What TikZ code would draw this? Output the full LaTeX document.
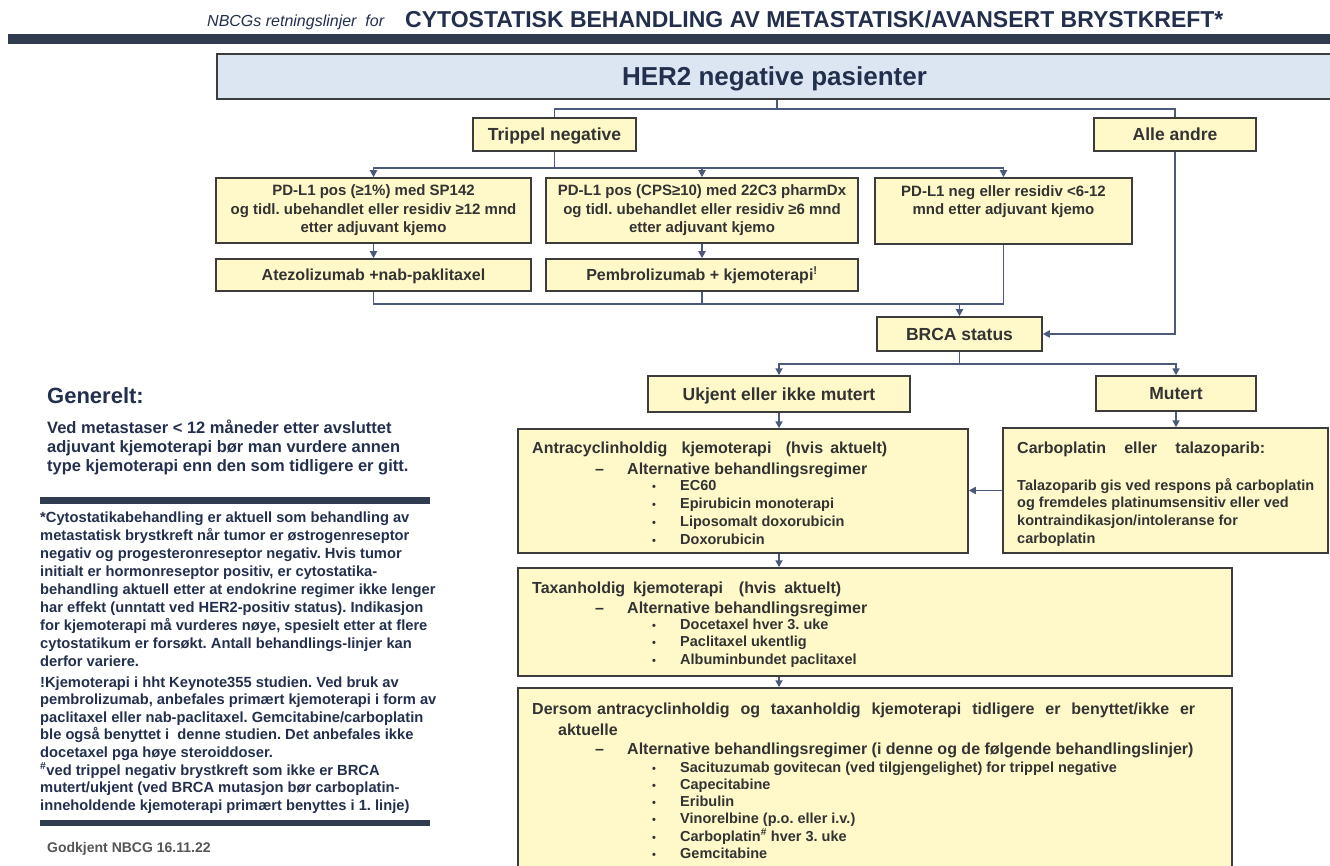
\documentclass[tikz,border=0pt]{standalone}
\usepackage{fontspec}
\setmainfont{Liberation Sans}
\usetikzlibrary{arrows.meta}
\definecolor{navy}{HTML}{23304D}
\definecolor{boxtext}{HTML}{333333}
\definecolor{boxline}{HTML}{3C3C3C}
\definecolor{boxfill}{HTML}{FFF9C9}
\definecolor{herfill}{HTML}{DCE6F2}
\definecolor{connc}{HTML}{4B5A7A}
\definecolor{barc}{HTML}{2F3B4F}
\definecolor{grayt}{HTML}{555555}
\newcommand\fs[2]{\fontsize{#1}{#2}\selectfont}
\begin{document}
\frenchspacing
\begin{tikzpicture}[x=1pt,y=-1pt,
  ybox/.style={draw=boxline, fill=boxfill, line width=1.5pt, inner sep=0pt, align=center, text=boxtext, font=\bfseries},
  conn/.style={draw=connc, line width=1.8pt},
  arr/.style={conn, -{Triangle[length=7pt,width=7pt]}},
  bt/.style={anchor=base west, inner sep=0pt, text=boxtext, font=\bfseries\fs{14.5}{17}},
  bth/.style={anchor=base west, inner sep=0pt, text=boxtext, font=\bfseries\fs{16}{19}},
  lt/.style={anchor=base west, inner sep=0pt, text=navy, font=\bfseries\fs{14.7}{17}},
  ttl/.style={font=\bfseries\fs{17.5}{20}, text height=12.5pt, text depth=0pt},
  onel/.style={font=\bfseries\fs{16}{19}, text height=11.5pt, text depth=0pt},
]
\useasboundingbox (0,0) rectangle (1330,866);
\fill[white] (0,0) rectangle (1330,866);

% header
\node[anchor=base west, inner sep=0pt, text=navy, font=\itshape\fs{16}{18}] (sub) at (207,27) {NBCGs retningslinjer\ \ for};
\node[anchor=base west, inner sep=0pt, text=navy, font=\bfseries\fs{23}{26}] (title) at (405,28) {CYTOSTATISK BEHANDLING AV METASTATISK/AVANSERT BRYSTKREFT*};
\fill[barc] (8,34) rectangle (1330,44);

% boxes
\node[ybox, fill=herfill, minimum width=1115pt, minimum height=45pt, text=navy, font=\bfseries\fs{26}{30}, text height=18.6pt, text depth=0pt] (her2) at (774.5,76.5) {HER2 negative pasienter};
\node[ybox, ttl, minimum width=163pt, minimum height=33pt] (trip) at (554.5,134.5) {Trippel negative};
\node[ybox, ttl, minimum width=162pt, minimum height=33pt] (alle) at (1175,134.5) {Alle andre};
\node[ybox, minimum width=315pt, minimum height=65pt, font=\bfseries\fs{15}{18.5}] (pd1) at (373.5,210.5) {PD-L1 pos (≥1\%) med SP142\\og tidl. ubehandlet eller residiv ≥12 mnd\\etter adjuvant kjemo};
\node[ybox, minimum width=312pt, minimum height=65pt, font=\bfseries\fs{15}{18.5}] (pd2) at (702,210.5) {PD-L1 pos (CPS≥10) med 22C3 pharmDx\\og tidl. ubehandlet eller residiv ≥6 mnd\\etter adjuvant kjemo};
\node[ybox, minimum width=257pt, minimum height=66pt] (pd3) at (1003.5,211) {};
\node[inner sep=0pt, align=center, text=boxtext, font=\bfseries\fs{15}{18.5}] (pd3t) at (1003.5,201.5) {PD-L1 neg eller residiv <6-12\\mnd etter adjuvant kjemo};
\node[ybox, onel, minimum width=315pt, minimum height=32pt] (atezo) at (373.5,275) {Atezolizumab +nab-paklitaxel};
\node[ybox, onel, minimum width=312pt, minimum height=32pt] (pembro) at (702,275) {Pembrolizumab + kjemoterapi\textsuperscript{!}};
\node[ybox, ttl, minimum width=165pt, minimum height=34pt] (brca) at (959.5,334) {BRCA status};
\node[ybox, ttl, minimum width=262pt, minimum height=36pt] (ukjent) at (779,394) {Ukjent eller ikke mutert};
\node[ybox, ttl, minimum width=160pt, minimum height=35pt] (mutert) at (1176,393.5) {Mutert};
\node[ybox, minimum width=450pt, minimum height=124pt] (antra) at (743,491) {};
\node[ybox, minimum width=325pt, minimum height=125pt] (carbo) at (1165.5,490.5) {};
\node[ybox, minimum width=714pt, minimum height=108pt] (taxan) at (875,622) {};
\node[ybox, minimum width=714pt, minimum height=182pt] (dersom) at (875,779) {};

% connectors
\coordinate (j1) at (777,109);
\draw[conn] (her2.south -| j1) -- (j1);
\draw[conn] (trip.north) |- (j1) -| (alle.north);
\coordinate (j2) at (554.5,168);
\draw[conn] (trip.south) -- (j2);
\draw[arr] (j2) -| (pd1.north);
\draw[arr] (j2) -| (pd2.north);
\draw[arr] (j2) -| (pd3.north);
\draw[arr] (pd1.south) -- (atezo.north);
\draw[arr] (pd2.south) -- (pembro.north);
\coordinate (j3) at (959.5,304);
\draw[conn] (atezo.south) |- (j3);
\draw[conn] (pembro.south) |- (j3);
\draw[conn] (pd3.south) |- (j3);
\draw[arr] (j3) -- (brca.north);
\draw[arr] (alle.south) |- (brca.east);
\coordinate (j4) at (959.5,364);
\draw[conn] (brca.south) -- (j4);
\draw[arr] (j4) -| (ukjent.north);
\draw[arr] (j4) -| (mutert.north);
\draw[arr] (ukjent.south) -- (ukjent.south |- antra.north);
\draw[arr] (mutert.south) -- (mutert.south |- carbo.north);
\draw[arr] (carbo.west) -- (carbo.west -| antra.east);
\draw[arr] (antra.south -| ukjent.south) -- (taxan.north -| ukjent.south);
\draw[arr] (taxan.south -| ukjent.south) -- (dersom.north -| ukjent.south);

% antra content
\node[bth] (at1) at (532,453) {\makebox[355pt][s]{Antracyclinholdig\ \ kjemoterapi\ \ (hvis aktuelt)}};
\node[bth] (at2d) at (595,474) {–};
\node[bth] (at2) at (627,474) {Alternative behandlingsregimer};
\foreach \t [count=\i] in {{EC60},{Epirubicin monoterapi},{Liposomalt doxorubicin},{Doxorubicin}} {
  \node[bt] (ab\i) at (680,{490+18*(\i-1)}) {\t};
  \node[bt, font=\bfseries\fs{11}{13}] (abd\i) at (652,{490+18*(\i-1)}) {•};
}

% carbo content
\node[bth] (cb1) at (1017,453) {\makebox[248pt][s]{Carboplatin\ \ eller\ \ talazoparib:}};
\foreach \t [count=\i] in {{Talazoparib gis ved respons på carboplatin},{og fremdeles platinumsensitiv eller ved},{kontraindikasjon/intoleranse for},{carboplatin}} {
  \node[bt] (cb\i x) at (1017,{490+17.7*(\i-1)}) {\t};
}

% taxan content
\node[bth] (tx1) at (532,593) {\makebox[309pt][s]{Taxanholdig kjemoterapi\ \ (hvis aktuelt)}};
\node[bth] (tx2d) at (595,613) {–};
\node[bth] (tx2) at (627,613) {Alternative behandlingsregimer};
\foreach \t [count=\i] in {{Docetaxel hver 3. uke},{Paclitaxel ukentlig},{Albuminbundet paclitaxel}} {
  \node[bt] (tb\i) at (680,{629+17.5*(\i-1)}) {\t};
  \node[bt, font=\bfseries\fs{11}{13}] (tbd\i) at (652,{629+17.5*(\i-1)}) {•};
}

% dersom content
\node[bth] (ds1) at (532,714) {\makebox[663pt][s]{Dersom antracyclinholdig\ \ og\ \ taxanholdig\ \ kjemoterapi\ \ tidligere\ \ er\ \ benyttet/ikke\ \ er}};
\node[bth] (ds2) at (558,735) {aktuelle};
\node[bth] (ds3d) at (595,754) {–};
\node[bth] (ds3) at (627,754) {Alternative behandlingsregimer (i denne og de følgende behandlingslinjer)};
\foreach \t [count=\i] in {{Sacituzumab govitecan (ved tilgjengelighet) for trippel negative},{Capecitabine},{Eribulin},{Vinorelbine (p.o. eller i.v.)},{Carboplatin\textsuperscript{\#} hver 3. uke},{Gemcitabine}} {
  \node[bt] (db\i) at (680,{772+17.3*(\i-1)}) {\t};
  \node[bt, font=\bfseries\fs{11}{13}] (dbd\i) at (652,{772+17.3*(\i-1)}) {•};
}

% left column
\node[anchor=base west, inner sep=0pt, text=navy, font=\bfseries\fs{22}{26}] (gen) at (47,403) {Generelt:};
\foreach \t [count=\i] in {{Ved metastaser < 12 måneder etter avsluttet},{adjuvant kjemoterapi bør man vurdere annen},{type kjemoterapi enn den som tidligere er gitt.}} {
  \node[lt, font=\bfseries\fs{16.5}{19}] (gp\i) at (47,{433+19*(\i-1)}) {\t};
}
\fill[barc] (40,497) rectangle (430,504);
\foreach \t [count=\i] in {{*Cytostatikabehandling er aktuell som behandling av},{metastatisk brystkreft når tumor er østrogenreseptor},{negativ og progesteronreseptor negativ. Hvis tumor},{initialt er hormonreseptor positiv, er cytostatika-},{behandling aktuell etter at endokrine regimer ikke lenger},{har effekt (unntatt ved HER2-positiv status). Indikasjon},{for kjemoterapi må vurderes nøye, spesielt etter at flere},{cytostatikum er forsøkt. Antall behandlings-linjer kan},{derfor variere.}} {
  \node[lt] (fa\i) at (40,{522+18.1*(\i-1)}) {\t};
}
\foreach \t [count=\i] in {{!Kjemoterapi i hht Keynote355 studien. Ved bruk av},{pembrolizumab, anbefales primært kjemoterapi i form av},{paclitaxel eller nab-paclitaxel. Gemcitabine/carboplatin},{ble også benyttet i\ \ denne studien. Det anbefales ikke},{docetaxel pga høye steroiddoser.},{\textsuperscript{\#}ved trippel negativ brystkreft som ikke er BRCA},{mutert/ukjent (ved BRCA mutasjon bør carboplatin-},{inneholdende kjemoterapi primært benyttes i 1. linje)}} {
  \node[lt] (fb\i) at (40,{687+17.6*(\i-1)}) {\t};
}
\fill[barc] (40,820) rectangle (430,826);
\node[anchor=base west, inner sep=0pt, text=grayt, font=\bfseries\fs{14}{17}] (godk) at (47,852) {Godkjent NBCG 16.11.22};
\end{tikzpicture}
\end{document}
